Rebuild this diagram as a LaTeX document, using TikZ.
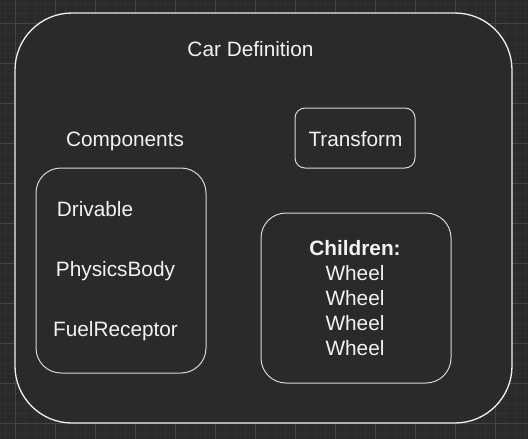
\documentclass[tikz,border=0pt]{standalone}
\usepackage{fontspec}
\setmainfont{Liberation Sans}
\usetikzlibrary{positioning}
\definecolor{canvas}{RGB}{42,42,42}
\definecolor{gridminor}{RGB}{49,49,49}
\definecolor{gridmajor}{RGB}{68,68,68}
\definecolor{edge}{RGB}{240,240,240}
\definecolor{edgesoft}{RGB}{215,215,215}
\definecolor{inkwhite}{RGB}{242,242,242}
\tikzset{
    line cap=round,
    line join=round,
    itemtext/.style={
        text=inkwhite,
        font=\fontsize{20.8}{25}\selectfont,
        inner sep=0pt,
        text height=14.9pt,
        text depth=0pt
    },
    blocktext/.style={
        text=inkwhite,
        font=\fontsize{20.8}{25}\selectfont,
        inner sep=0pt,
        align=center
    },
    outerpanel/.style={
        rectangle,
        draw=edge,
        fill=canvas,
        line width=1.3pt,
        rounded corners=57pt,
        inner sep=0pt
    },
    innerpanel/.style={
        rectangle,
        draw=edgesoft,
        fill=canvas,
        line width=1pt,
        rounded corners=25pt,
        inner sep=0pt
    },
    smallpanel/.style={
        innerpanel,
        rounded corners=10pt
    }
}

\begin{document}
\begin{tikzpicture}[x=1pt, y=-1pt]

\useasboundingbox (0,0) rectangle (528,439);
\fill[canvas] (0,0) rectangle (528,439);

% canvas grid
\foreach \gx in {5,15,...,525} {
    \draw[gridminor, line width=0.8pt] (\gx,0) -- (\gx,439);
}
\foreach \gy in {3,13,...,433} {
    \draw[gridminor, line width=0.8pt] (0,\gy) -- (528,\gy);
}
\foreach \gx in {15,55,...,495} {
    \draw[gridmajor, line width=0.8pt] (\gx,0) -- (\gx,439);
}
\foreach \gy in {23,63,...,423} {
    \draw[gridmajor, line width=0.8pt] (0,\gy) -- (528,\gy);
}

\node[outerpanel, minimum width=497pt, minimum height=410pt] (car) at (263.5,218) {};
\node[itemtext] (cartitle) at (250.5,49) {Car Definition};

\node[itemtext] (comptitle) at (125,139) {Components};
\node[innerpanel, minimum width=170pt, minimum height=205pt] (compbox) at (121,270.5) {};
\node[itemtext] (drivable) at (95,209) {Drivable};
\node[itemtext] (physics) at (115.5,269) {PhysicsBody};
\node[itemtext] (fuel) at (115.5,329) {FuelReceptor};

\node[smallpanel, minimum width=120pt, minimum height=60pt] (transform) at (355,138) {};
\node[itemtext] (transformtext) at (355.5,139) {Transform};

\node[innerpanel, minimum width=190pt, minimum height=170pt] (childbox) at (356,298) {};
\node[blocktext] (children) at (355,298.5) {\textbf{Children:}\\Wheel\\Wheel\\Wheel\\Wheel};

\end{tikzpicture}
\end{document}
